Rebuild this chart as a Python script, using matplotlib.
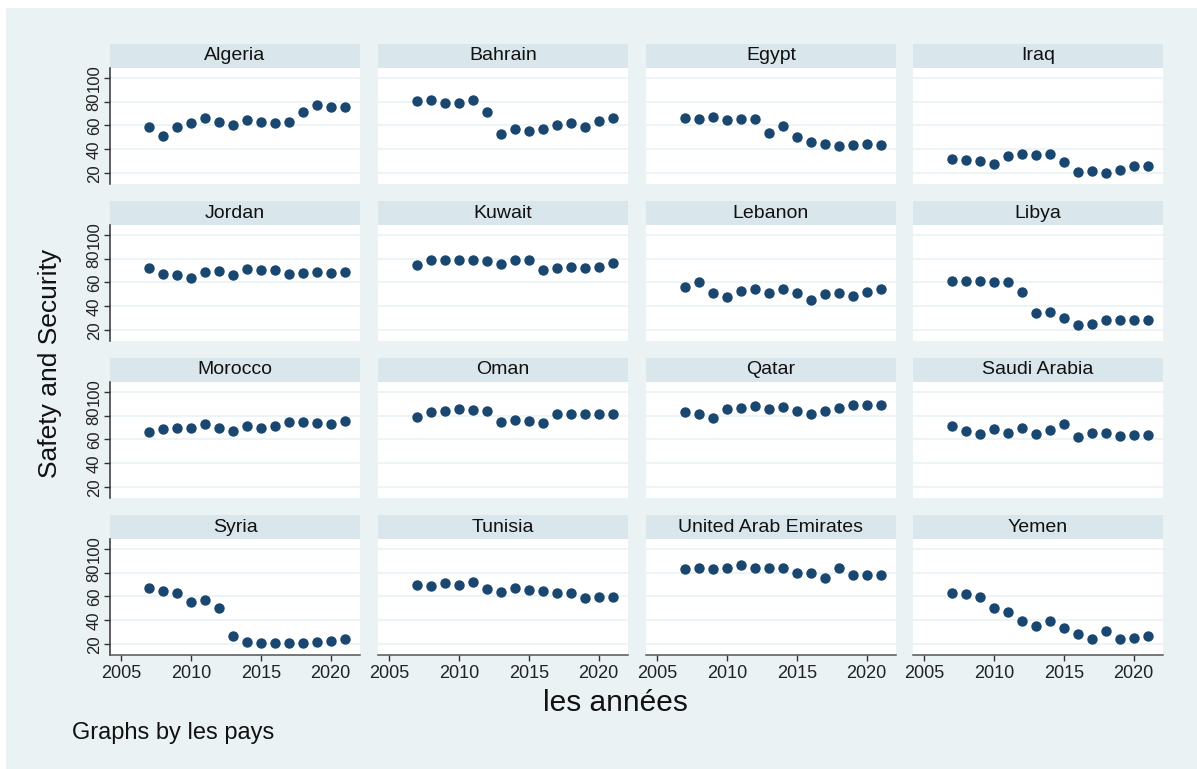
import matplotlib
matplotlib.use("Agg")
import matplotlib.pyplot as plt
from matplotlib.patches import Rectangle

plt.rcParams['font.family'] = ['Liberation Sans', 'DejaVu Sans']

years = list(range(2007, 2022))
countries = ["Algeria", "Bahrain", "Egypt", "Iraq",
             "Jordan", "Kuwait", "Lebanon", "Libya",
             "Morocco", "Oman", "Qatar", "Saudi Arabia",
             "Syria", "Tunisia", "United Arab Emirates", "Yemen"]

algeria = [59.0, 51.4, 58.7, 62.0, 66.6, 62.6, 60.7, 64.6, 62.6, 62.4, 63.2, 71.0, 77.2, 75.8, 75.3]
bahrain = [80.3, 81.0, 78.7, 79.0, 81.7, 71.3, 52.8, 56.7, 55.3, 56.7, 60.7, 61.8, 59.0, 63.8, 66.0]
egypt = [66.6, 65.4, 66.9, 64.3, 65.2, 65.2, 53.4, 59.8, 50.3, 46.3, 44.9, 42.4, 43.8, 44.9, 43.8]
iraq = [31.7, 31.5, 30.6, 28.1, 34.3, 36.0, 35.4, 36.2, 29.8, 21.3, 21.6, 20.2, 23.0, 26.4, 25.8]
jordan = [72.2, 67.1, 66.6, 64.0, 68.5, 70.0, 66.6, 71.3, 70.5, 70.5, 67.4, 67.7, 69.1, 67.7, 69.1]
kuwait = [74.2, 78.4, 78.4, 78.7, 78.7, 78.1, 75.6, 79.2, 78.9, 70.8, 71.9, 72.8, 71.9, 72.8, 76.7]
lebanon = [56.2, 60.1, 50.8, 48.0, 53.1, 54.2, 51.4, 54.8, 50.8, 45.5, 50.3, 51.1, 48.6, 52.0, 54.5]
libya = [60.9, 60.9, 60.9, 60.6, 60.1, 51.7, 34.3, 35.4, 30.3, 24.4, 25.3, 28.7, 28.7, 28.7, 28.9]
morocco = [66.2, 68.7, 69.5, 69.8, 72.6, 69.8, 67.0, 71.2, 69.8, 70.9, 74.8, 74.3, 73.7, 72.9, 75.1]
oman = [78.5, 83.2, 83.8, 85.2, 84.9, 84.1, 74.8, 75.9, 75.7, 74.0, 81.5, 80.9, 81.5, 81.3, 81.5]
qatar = [83.2, 80.9, 77.9, 85.2, 86.6, 88.3, 85.2, 86.9, 83.5, 81.3, 83.8, 86.6, 89.1, 89.1, 89.1]
saudi_arabia = [71.2, 67.3, 64.3, 68.7, 65.6, 69.8, 64.3, 67.8, 72.9, 62.4, 65.1, 65.4, 63.2, 63.5, 63.8]
syria = [66.8, 64.2, 63.1, 55.2, 57.2, 50.4, 27.0, 22.3, 21.4, 21.4, 21.4, 21.4, 22.3, 23.1, 24.5]
tunisia = [69.9, 68.7, 71.5, 69.3, 72.1, 66.2, 63.9, 67.3, 65.1, 64.2, 62.5, 62.8, 58.9, 59.2, 59.2]
uae = [82.8, 84.2, 82.8, 84.2, 86.2, 84.2, 84.2, 84.2, 79.7, 79.7, 75.2, 83.9, 78.0, 78.0, 78.0]
yemen = [63.1, 61.7, 59.4, 50.7, 47.0, 39.2, 34.9, 39.2, 33.8, 28.5, 24.5, 31.3, 24.5, 25.1, 26.5]

series = [algeria, bahrain, egypt, iraq, jordan, kuwait, lebanon, libya,
          morocco, oman, qatar, saudi_arabia, syria, tunisia, uae, yemen]

xticks = [2005, 2010, 2015, 2020]
yticks = [20, 40, 60, 80, 100]

W, H = 1197, 769
BG = "#EAF2F3"
STRIP = "#D9E6EB"
MARK = "#1A476F"

fig = plt.figure(figsize=(W / 100, H / 100), dpi=100)
fig.patch.set_facecolor("white")

def px(x, y, w, h):
    return [x / W, 1 - (y + h) / H, w / W, h / H]

fig.patches.append(Rectangle((6 / W, 0), 1, 1 - 8 / H, transform=fig.transFigure,
                             facecolor=BG, edgecolor="none", zorder=-10))

col_x = [110, 378, 646, 913]
pw = 250
strip_top = [44, 201, 358, 515]
sh = 24
ph = 116

for i, (name, vals) in enumerate(zip(countries, series)):
    r, c = divmod(i, 4)
    x0 = col_x[c]
    y0 = strip_top[r]
    sax = fig.add_axes(px(x0, y0, pw, sh))
    sax.set_facecolor(STRIP)
    sax.set_xticks([]); sax.set_yticks([])
    for s in sax.spines.values():
        s.set_visible(False)
    sax.text(0.5, 0.5, name, ha="center", va="center", fontsize=14, color="#111111",
             transform=sax.transAxes)

    ax = fig.add_axes(px(x0, y0 + sh, pw, ph))
    ax.set_facecolor("white")
    ax.set_xlim(2004.2, 2022.1)
    ax.set_ylim(11.0, 108.1)
    for yv in yticks:
        ax.axhline(yv, color=BG, lw=1.2, zorder=0)
    ax.plot(years, vals, "o", color=MARK, markersize=7.5, markeredgewidth=0, zorder=3)
    for s in ax.spines.values():
        s.set_visible(False)
    ax.set_yticks(yticks)
    ax.set_xticks(xticks)
    if c == 0:
        ax.spines["left"].set_visible(True)
        ax.spines["left"].set_color("#333333")
        ax.spines["left"].set_linewidth(1.1)
        ax.tick_params(axis="y", length=4, width=1, color="#333333", pad=2,
                       labelsize=12, labelcolor="#222222", labelrotation=90)
        for lab in ax.get_yticklabels():
            lab.set_va("center")
    else:
        ax.tick_params(axis="y", left=False, labelleft=False)
    if r == 3:
        ax.spines["bottom"].set_visible(True)
        ax.spines["bottom"].set_color("#555555")
        ax.spines["bottom"].set_linewidth(1.1)
        ax.tick_params(axis="x", length=4, width=1, color="#333333", pad=3,
                       labelsize=13, labelcolor="#222222")
    else:
        ax.tick_params(axis="x", bottom=False, labelbottom=False)

fig.text(50 / W, 1 - 363 / H, "Safety and Security", rotation=90, ha="center", va="center",
         fontsize=19, color="#111111")
fig.text(615 / W, 1 - 703 / H, "les années", ha="center", va="center",
         fontsize=21.5, color="#111111")
fig.text(72 / W, 1 - 733 / H, "Graphs by les pays", ha="left", va="center",
         fontsize=17, color="#111111")

fig.savefig("out.png", dpi=100, facecolor=fig.get_facecolor())
